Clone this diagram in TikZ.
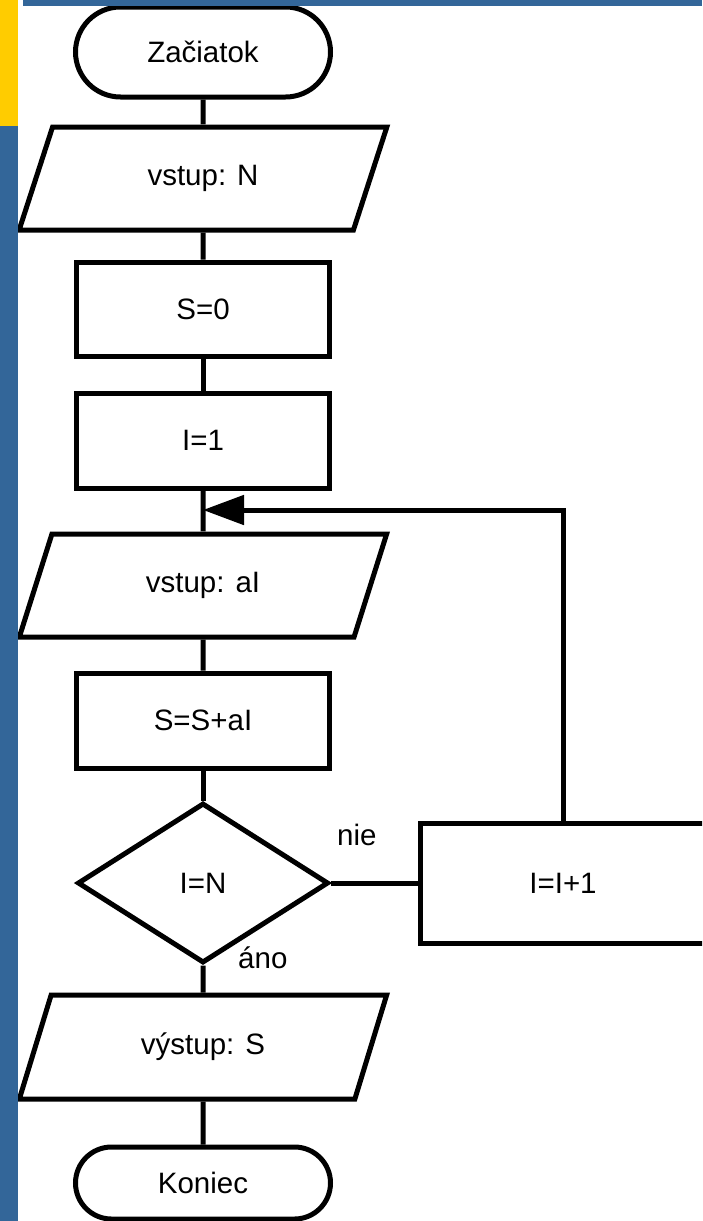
\documentclass[tikz,border=0pt]{standalone}
\usepackage{fontspec}
\setmainfont{Liberation Sans}
\usetikzlibrary{shapes.geometric,arrows.meta}
\definecolor{bgblue}{RGB}{51,102,153}
\definecolor{bgyellow}{RGB}{255,204,0}
\begin{document}
\begin{tikzpicture}[x=1pt,y=-1pt,
  every node/.style={font=\fontsize{29.5}{35}\selectfont},
  conn/.style={line width=5pt},
  box/.style={draw,line width=5pt,rectangle,inner sep=0pt,minimum width=253pt},
  io/.style={draw,line width=5pt,trapezium,trapezium left angle=65,trapezium right angle=115,
    trapezium stretches=true,inner sep=0pt,minimum width=368pt},
  lbl/.style={anchor=base west,inner sep=0pt}]
\useasboundingbox (0,0) rectangle (702,1221);
\fill[bgblue] (0,0) rectangle (702,1221);
\fill[white] (18,6) rectangle (702,1221);
\fill[white] (18,0) rectangle (23,6);
\fill[bgyellow] (0,0) rectangle (18,126);
\clip (18,6) rectangle (702,1221);
% nodes
\node[draw,line width=5pt,rectangle,rounded corners=45pt,minimum width=255pt,minimum height=90pt,inner sep=0pt] (start) at (203,52) {Začiatok};
\node[io,minimum height=103pt] (inN) at (203,178.5) {vstup: N};
\node[box,minimum height=94pt] (s0) at (203,309) {S=0};
\node[box,minimum height=95pt] (i1) at (203,440.5) {I=1};
\coordinate (m) at (203,510);
\node[io,minimum height=103pt] (inA) at (203,585.5) {vstup: aI};
\node[box,minimum height=95pt] (ssa) at (203,720.5) {S=S+aI};
\node[draw,line width=5pt,diamond,aspect=1.57,minimum width=251pt,minimum height=160pt,inner sep=0pt] (dec) at (203,883) {I=N};
\node[box,minimum width=286pt,minimum height=120pt] (inc) at (563,883) {I=I+1};
\node[io,minimum height=104pt] (out) at (203,1047) {výstup: S};
\node[draw,line width=5pt,rectangle,rounded corners=36pt,minimum width=255pt,minimum height=72pt,inner sep=0pt] (end) at (203,1183) {Koniec};
\node[lbl] (nie) at (337,845) {nie};
\node[lbl] (ano) at (238,968) {áno};
% connectors
\draw[conn] (start.south) -- (inN.north);
\draw[conn] (inN.south) -- (s0.north);
\draw[conn] (s0.south) -- (i1.north);
\draw[conn] (i1.south) -- (inA.north);
\draw[conn] (inA.south) -- (ssa.north);
\draw[conn] (ssa.south) -- (dec.north);
\draw[conn] (dec.east) -- (inc.west);
\draw[conn,-{Triangle[length=41pt,width=29pt]}] (inc.north) |- (m);
\draw[conn] (dec.south) -- (out.north);
\draw[conn] (out.south) -- (end.north);
\end{tikzpicture}
\end{document}
